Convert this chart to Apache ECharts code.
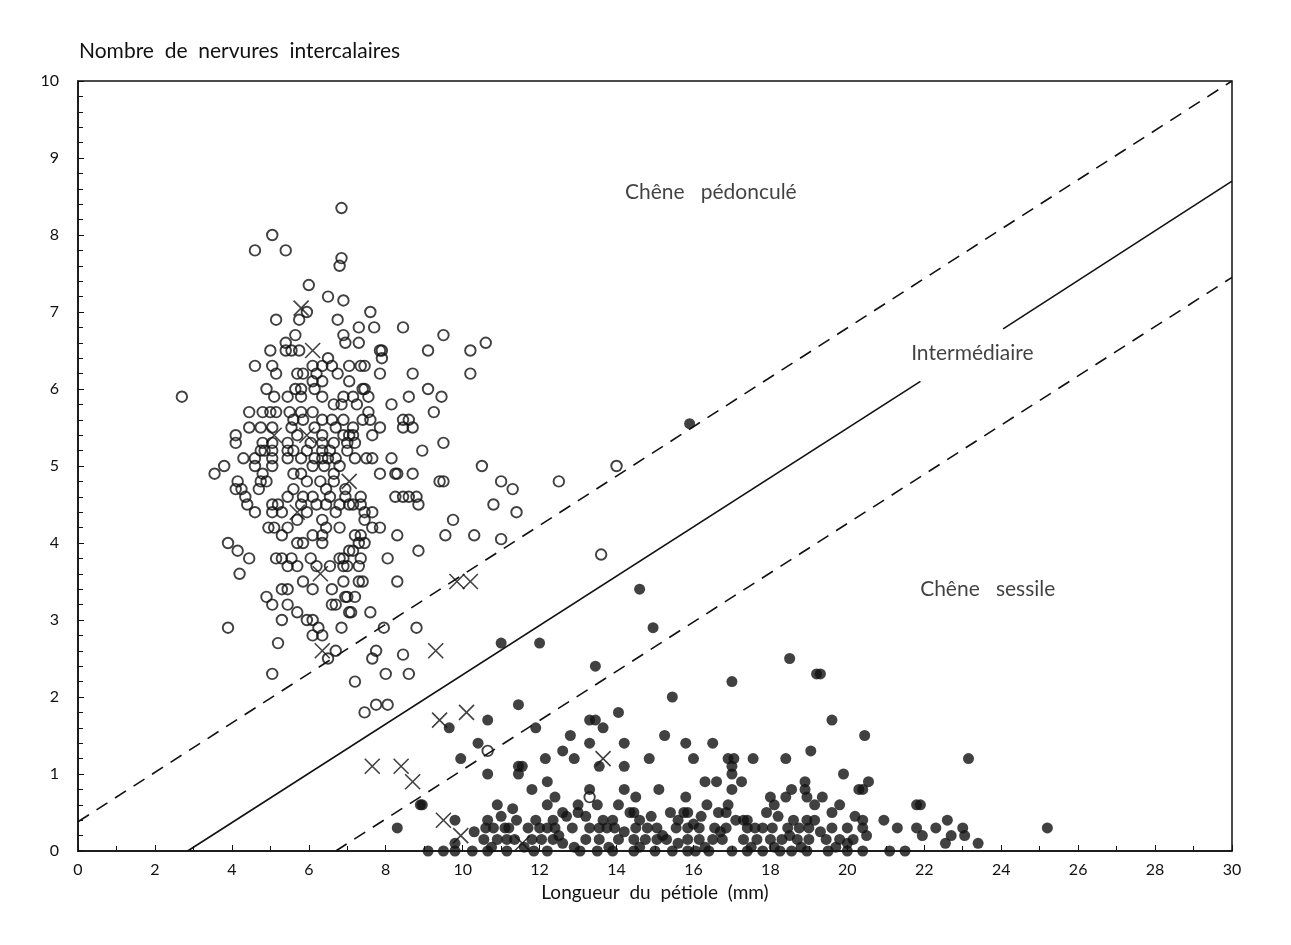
<!DOCTYPE html>
<html><head><meta charset="utf-8">
<script src="https://cdn.jsdelivr.net/npm/echarts@6/dist/echarts.min.js"></script>
<style>html,body{margin:0;padding:0;background:#fff}#c{width:1291px;height:945px}</style>
</head><body><div id="c"></div>
<script>
// Tick labels
const xTickLabels = ['0','2','4','6','8','10','12','14','16','18','20','22','24','26','28','30'];
const yTickLabels = ['0','1','2','3','4','5','6','7','8','9','10'];
const yAxisTitle = 'Nombre  de  nervures  intercalaires';
const xAxisTitle = 'Longueur  du  pétiole  (mm)';
const regionLabels = ['Chêne   pédonculé', 'Intermédiaire', 'Chêne   sessile'];

// Chêne pédonculé (open circles): [petiole length, intercalary veins]
const pedoncule = [
[6.85,8.35],[5.05,8.0],[4.6,7.8],[5.4,7.8],[6.85,7.7],[6.8,7.6],[6.0,7.35],[6.5,7.2],[6.9,7.15],[7.6,7.0],
[5.15,6.9],[5.75,6.9],[5.95,7.0],[6.75,6.9],[7.3,6.8],[7.7,6.8],[8.45,6.8],[9.5,6.7],[5.65,6.7],[6.9,6.7],[10.6,6.6],[6.95,6.6],[7.3,6.6],[5.4,6.6],
[5.4,6.5],[5.0,6.5],[5.55,6.5],[5.75,6.5],[7.85,6.5],[7.9,6.5],[9.1,6.5],[10.2,6.5],[6.5,6.4],[7.9,6.4],
[6.6,6.3],[6.35,6.3],[6.1,6.3],[4.6,6.3],[5.05,6.3],[7.05,6.3],[7.35,6.3],[7.45,6.3],
[5.15,6.2],[5.7,6.2],[5.85,6.2],[6.2,6.2],[6.75,6.2],[7.85,6.2],[8.7,6.2],[10.2,6.2],
[6.35,6.1],[6.1,6.1],[7.05,6.1],
[2.7,5.9],[4.9,6.0],[5.65,6.0],[5.8,6.0],[6.15,6.0],[7.4,6.0],[7.45,6.0],[9.1,6.0],
[5.1,5.9],[5.45,5.9],[5.8,5.9],[6.35,5.9],[7.15,5.9],[6.9,5.9],[7.55,5.9],[8.6,5.9],[9.45,5.9],
[6.65,5.8],[6.85,5.8],[7.25,5.8],[8.15,5.8],
[4.45,5.7],[4.8,5.7],[5.0,5.7],[5.15,5.7],[5.5,5.7],[5.8,5.7],[6.1,5.7],[7.55,5.7],[9.25,5.7],
[5.6,5.6],[5.85,5.6],[6.35,5.6],[6.6,5.6],[6.9,5.6],[7.4,5.6],[7.6,5.6],[8.45,5.6],[8.6,5.6],
[4.45,5.5],[4.75,5.5],[5.05,5.5],[5.55,5.5],[6.15,5.5],[6.7,5.5],[7.15,5.5],[7.85,5.5],[8.45,5.5],[8.7,5.5],
[4.1,5.4],[5.7,5.4],[6.35,5.4],[7.15,5.4],[6.9,5.4],[7.05,5.4],[7.65,5.4],
[4.1,5.3],[4.8,5.3],[5.05,5.3],[5.45,5.3],[6.05,5.3],[6.35,5.3],[6.65,5.3],[7.0,5.3],[7.2,5.3],[9.5,5.3],
[4.75,5.2],[4.85,5.2],[5.05,5.2],[5.45,5.2],[5.6,5.2],[5.95,5.2],[6.35,5.2],[6.55,5.2],[7.0,5.2],[8.95,5.2],
[4.3,5.1],[4.6,5.1],[5.05,5.1],[5.45,5.1],[5.8,5.1],[6.15,5.1],[6.35,5.1],[6.5,5.1],[6.7,5.1],[7.2,5.1],[7.5,5.1],[7.65,5.1],[8.15,5.1],
[3.8,5.0],[4.6,5.0],[5.05,5.0],[6.1,5.0],[6.4,5.0],[6.8,5.0],[10.5,5.0],[14.0,5.0],
[3.55,4.9],[4.8,4.9],[5.6,4.9],[5.8,4.9],[6.65,4.9],[7.85,4.9],[8.25,4.9],[8.3,4.9],[8.7,4.9],
[4.15,4.8],[4.75,4.8],[4.9,4.8],[5.95,4.8],[6.3,4.8],[6.65,4.8],[9.4,4.8],[9.5,4.8],[11.0,4.8],[12.5,4.8],
[4.1,4.7],[4.25,4.7],[4.7,4.7],[5.6,4.7],[6.45,4.7],[6.95,4.7],[11.3,4.7],
[4.35,4.6],[5.45,4.6],[5.85,4.6],[6.1,4.6],[6.55,4.6],[6.95,4.6],[7.35,4.6],[8.25,4.6],[8.45,4.6],[8.6,4.6],[8.8,4.6],
[4.4,4.5],[5.05,4.5],[5.2,4.5],[5.8,4.5],[6.2,4.5],[6.45,4.5],[6.8,4.5],[7.15,4.5],[7.05,4.5],[7.35,4.5],[8.85,4.5],[10.8,4.5],
[4.6,4.4],[5.05,4.4],[5.3,4.4],[5.95,4.4],[6.7,4.4],[7.45,4.4],[7.65,4.4],[11.4,4.4],
[5.7,4.3],[6.35,4.3],[7.45,4.3],[9.75,4.3],
[4.95,4.2],[5.1,4.2],[5.45,4.2],[6.45,4.2],[6.8,4.2],[7.65,4.2],[7.85,4.2],
[5.3,4.1],[6.1,4.1],[6.35,4.1],[7.2,4.1],[7.35,4.1],[8.3,4.1],[9.55,4.1],[10.3,4.1],[11.0,4.05],
[3.9,4.0],[5.7,4.0],[5.85,4.0],[6.35,4.0],[7.3,4.0],[7.45,4.0],
[4.15,3.9],[7.15,3.9],[7.05,3.9],[8.85,3.9],
[4.45,3.8],[5.15,3.8],[5.3,3.8],[5.55,3.8],[6.05,3.8],[6.8,3.8],[6.9,3.8],[7.35,3.8],[8.05,3.8],[13.6,3.85],
[5.45,3.7],[5.7,3.7],[6.2,3.7],[6.55,3.7],[7.0,3.7],[6.9,3.7],[7.3,3.7],
[4.2,3.6],
[5.85,3.5],[6.9,3.5],[7.3,3.5],[7.4,3.5],[8.3,3.5],
[5.3,3.4],[5.45,3.4],[6.1,3.4],[6.6,3.4],
[4.9,3.3],[6.95,3.3],[7.2,3.3],[7.0,3.3],
[5.05,3.2],[5.45,3.2],[6.6,3.2],[6.7,3.2],
[5.7,3.1],[7.05,3.1],[7.1,3.1],[7.6,3.1],
[5.3,3.0],[5.95,3.0],[6.1,3.0],
[3.9,2.9],[6.25,2.9],[6.85,2.9],[7.95,2.9],[8.8,2.9],
[6.1,2.8],[6.35,2.8],
[5.2,2.7],
[6.7,2.6],[7.75,2.6],[8.45,2.55],
[6.5,2.5],[7.65,2.5],
[5.05,2.3],[8.0,2.3],[8.6,2.3],
[7.2,2.2],
[7.75,1.9],[8.05,1.9],[7.45,1.8],
[10.65,1.3],[13.3,0.7]
];

// Chêne sessile (filled dots)
const sessile = [
[15.9,5.55],[14.6,3.4],[14.95,2.9],[11.0,2.7],[12.0,2.7],[13.45,2.4],[18.5,2.5],[19.2,2.3],[19.3,2.3],[17.0,2.2],[15.45,2.0],
[11.45,1.9],[14.05,1.8],[10.65,1.7],[13.3,1.7],[13.45,1.7],[19.6,1.7],[9.65,1.6],[11.9,1.6],[13.65,1.6],[12.8,1.5],[15.25,1.5],[20.45,1.5],
[10.4,1.4],[13.3,1.4],[14.2,1.4],[15.8,1.4],[16.5,1.4],[12.6,1.3],[19.05,1.3],
[9.95,1.2],[12.15,1.2],[12.9,1.2],[14.85,1.2],[16.0,1.2],[16.9,1.2],[17.05,1.2],[17.55,1.2],[18.4,1.2],[23.15,1.2],
[11.45,1.1],[11.55,1.1],[13.55,1.1],[14.2,1.1],[17.0,1.1],[11.45,1.0],[10.65,1.0],[17.0,1.0],[19.9,1.0],
[12.2,0.9],[16.3,0.9],[16.6,0.9],[17.25,0.9],[18.9,0.9],[20.55,0.9],
[11.8,0.8],[13.3,0.8],[14.2,0.8],[15.1,0.8],[17.0,0.8],[18.55,0.8],[18.9,0.8],[20.3,0.8],[20.4,0.8],
[12.4,0.7],[14.5,0.7],[15.8,0.7],[18.0,0.7],[18.4,0.7],[18.95,0.7],[19.35,0.7],
[8.9,0.6],[8.95,0.6],[10.9,0.6],[12.2,0.6],[13.0,0.6],[13.5,0.6],[14.05,0.6],[16.35,0.6],[16.9,0.6],[18.1,0.6],[19.15,0.6],[19.8,0.6],[21.8,0.6],[21.9,0.6],
[12.6,0.5],[13.0,0.5],[14.45,0.5],[15.4,0.5],[15.75,0.5],[15.85,0.5],[16.65,0.5],[16.85,0.5],[17.9,0.5],[19.6,0.5],[14.35,0.5],
[11.3,0.55],[12.7,0.45],[13.2,0.45],[14.9,0.45],[16.2,0.45],[18.2,0.45],[20.2,0.45],[11.0,0.45],
[9.8,0.4],[10.65,0.4],[11.4,0.4],[11.9,0.4],[12.35,0.4],[13.65,0.4],[13.9,0.4],[14.6,0.4],[15.6,0.4],[17.3,0.4],[17.4,0.4],[18.6,0.4],[18.95,0.4],[19.15,0.4],[20.4,0.4],[20.95,0.4],[22.6,0.4],
[16.0,0.35],[17.1,0.4],
[8.3,0.3],[10.6,0.3],[10.8,0.3],[11.1,0.3],[11.2,0.3],[11.7,0.3],[12.0,0.3],[12.2,0.3],[12.4,0.3],[12.85,0.3],[13.55,0.3],[13.75,0.3],[13.95,0.3],[14.5,0.3],[14.8,0.3],[15.05,0.3],[15.55,0.3],[15.85,0.3],[16.15,0.3],[16.55,0.3],[16.85,0.3],[17.4,0.3],[17.8,0.3],[18.05,0.3],[18.45,0.3],[18.75,0.3],[19.0,0.3],[19.6,0.3],[20.0,0.3],[20.4,0.3],[21.3,0.3],[21.8,0.3],[22.3,0.3],[23.0,0.3],[25.2,0.3],
[10.3,0.25],[13.3,0.3],[14.2,0.25],[16.7,0.25],[17.6,0.3],[19.3,0.25],[12.5,0.2],[15.2,0.2],[18.5,0.2],
[10.55,0.15],[10.9,0.15],[11.15,0.15],[11.35,0.15],[11.8,0.15],[12.05,0.15],[12.35,0.15],[13.2,0.15],[13.55,0.15],[14.05,0.15],[14.45,0.15],[14.75,0.15],[15.05,0.15],[15.3,0.15],[15.85,0.15],[16.15,0.15],[16.5,0.15],[16.75,0.15],[17.3,0.15],[17.65,0.15],[18.0,0.15],[18.3,0.15],[18.7,0.15],[19.0,0.15],[19.45,0.15],[19.8,0.15],[20.15,0.15],[20.5,0.2],[21.95,0.2],[22.7,0.2],[23.05,0.2],[20.0,0.1],[22.55,0.1],[23.4,0.1],[12.6,0.1],[9.8,0.1],[15.6,0.1],
[10.75,0.05],[11.6,0.05],[12.9,0.05],[13.8,0.05],[14.6,0.05],[16.3,0.05],[17.5,0.05],[18.1,0.05],[18.8,0.05],[19.7,0.05],
[9.1,0],[9.5,0],[9.8,0],[10.25,0],[10.65,0],[11.15,0],[11.85,0],[12.2,0],[13.05,0],[13.5,0],[13.9,0],[14.45,0],[15.0,0],[15.45,0],[15.85,0],[16.05,0],[16.4,0],[17.0,0],[17.4,0],[17.8,0],[18.25,0],[18.55,0],[18.95,0],[19.5,0],[20.0,0],[20.4,0],[21.1,0],[21.5,0]
];

// Intermediate (crosses)
const intermediaire = [
[5.8,7.05],[6.1,6.5],[5.1,5.4],[5.95,5.4],[7.05,4.8],[5.7,4.4],[6.3,3.6],[6.35,2.6],
[9.85,3.5],[10.2,3.5],[9.3,2.6],[9.4,1.7],[10.1,1.8],[7.65,1.1],[8.4,1.1],[8.7,0.9],
[9.5,0.4],[9.95,0.2],[13.65,1.2],[11.55,0.1]
];

// Discriminant lines (end points)
const upperDashed = [[0,0.38],[30,10]];
const solidLow = [[2.85,0],[21.9,6.1]];
const solidHigh = [[24.05,6.78],[30,8.7]];
const lowerDashed = [[6.7,0],[30,7.45]];
const labelPos = [[16.45,8.55],[23.25,6.46],[23.65,3.4]];

const FONT = 'Lato, "Open Sans", sans-serif';
const INK = '#111';
const chart = echarts.init(document.getElementById('c'));
const crossPath = 'path://M0,0L10,10M10,0L0,10';

const lineSeries = (data, type) => ({
  type: 'line', data, symbol: 'none', silent: true, z: 1,
  lineStyle: { color: INK, width: 1.6, type: type === 'dashed' ? [13, 9] : 'solid' }
});

chart.setOption({
  animation: false,
  backgroundColor: '#fff',
  textStyle: { fontFamily: FONT, color: INK },
  title: { text: yAxisTitle, left: 74, top: 36, textStyle: { fontFamily: FONT, fontWeight: 'normal', fontSize: 21, color: INK } },
  grid: { left: 78, right: 59, top: 81, bottom: 94, show: true, borderColor: INK, borderWidth: 1.5, backgroundColor: 'transparent' },
  xAxis: {
    type: 'value', min: 0, max: 30, interval: 2,
    name: xAxisTitle, nameLocation: 'middle', nameGap: 22,
    nameTextStyle: { fontFamily: FONT, fontSize: 19, color: INK, verticalAlign: 'top' },
    axisLine: { lineStyle: { color: INK, width: 1.5 } },
    axisTick: { inside: true, length: 6, lineStyle: { color: INK } },
    minorTick: { show: true, splitNumber: 2, length: 5, lineStyle: { color: INK } },
    splitLine: { show: false },
    axisLabel: { fontFamily: FONT, fontSize: 16, color: INK, margin: 11,
      formatter: v => xTickLabels[Math.round(v / 2)] }
  },
  yAxis: {
    type: 'value', min: 0, max: 10, interval: 1,
    axisLine: { show: true, lineStyle: { color: INK, width: 1.5 } },
    axisTick: { show: true, inside: true, length: 6, lineStyle: { color: INK } },
    minorTick: { show: true, splitNumber: 5, length: 5, lineStyle: { color: INK } },
    splitLine: { show: false },
    axisLabel: { fontFamily: FONT, fontSize: 16, color: INK, margin: 19,
      formatter: v => yTickLabels[Math.round(v)] }
  },
  series: [
    lineSeries(upperDashed, 'dashed'),
    lineSeries(solidLow, 'solid'),
    lineSeries(solidHigh, 'solid'),
    lineSeries(lowerDashed, 'dashed'),
    { type: 'scatter', name: 'pédonculé', data: pedoncule, symbol: 'circle', symbolSize: 10.5, z: 3,
      itemStyle: { color: 'rgba(255,255,255,0)', borderColor: INK, borderWidth: 1.9 } },
    { type: 'scatter', name: 'sessile', data: sessile, symbol: 'circle', symbolSize: 11, z: 4,
      itemStyle: { color: INK, borderWidth: 0 } },
    { type: 'scatter', name: 'intermédiaire', data: intermediaire, symbol: crossPath, symbolSize: 15, z: 5,
      itemStyle: { color: 'none', borderColor: INK, borderWidth: 1.6 } },
    { type: 'scatter', data: labelPos.map((p, i) => ({ value: p, name: regionLabels[i] })), symbolSize: 0, silent: true, z: 6,
      label: { show: true, position: 'inside', formatter: p => p.name, fontFamily: FONT, fontSize: 21, color: INK } }
  ]
});
</script></body></html>
